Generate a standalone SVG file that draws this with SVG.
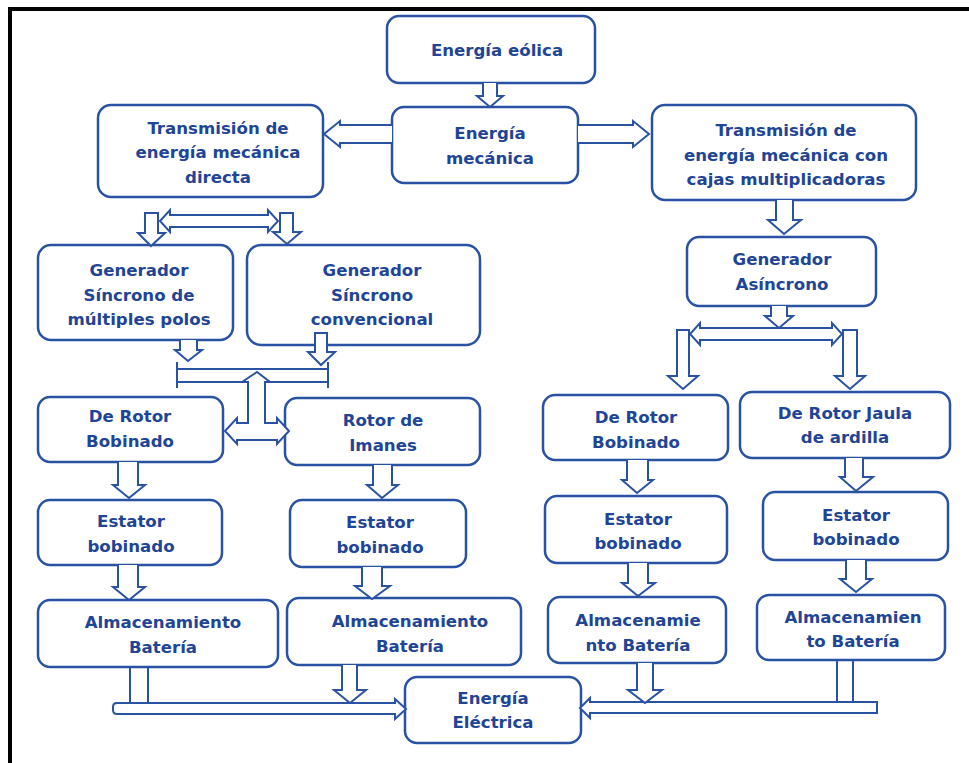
<svg xmlns="http://www.w3.org/2000/svg" width="969" height="763" viewBox="0 0 969 763">
<style>
.box{fill:#fff;stroke:#2a52a3;stroke-width:2.5}
.arr{fill:#fff;stroke:#2a52a3;stroke-width:2;stroke-linejoin:miter}
.ln{fill:none;stroke:#2a52a3;stroke-width:2}
text{font-family:"DejaVu Sans","Liberation Sans",sans-serif;font-weight:bold;font-size:16.6px;fill:#1f4596;text-anchor:middle}
</style>
<rect x="0" y="0" width="969" height="763" fill="#fff"/>
<path d="M10,763 V9 H969" fill="none" stroke="#000" stroke-width="4"/>

<g id="n-eolica"><rect class="box" x="387" y="16" width="208" height="67" rx="12"/><text x="497" y="56">Energía eólica</text></g>
<g id="n-mecanica"><rect class="box" x="392" y="107" width="186" height="76" rx="12"/><text x="490" y="139">Energía</text><text x="490" y="164">mecánica</text></g>
<g id="n-trans-directa"><rect class="box" x="98" y="105" width="225" height="92" rx="13"/><text x="218" y="134">Transmisión de</text><text x="218" y="158">energía mecánica</text><text x="218" y="183">directa</text></g>
<g id="n-trans-cajas"><rect class="box" x="652" y="105" width="264" height="95" rx="13"/><text x="786" y="136">Transmisión de</text><text x="786" y="161">energía mecánica con</text><text x="786" y="185">cajas multiplicadoras</text></g>
<g id="n-gen-multi"><rect class="box" x="38" y="245" width="195" height="95" rx="13"/><text x="139" y="276">Generador</text><text x="139" y="301">Síncrono de</text><text x="139" y="325">múltiples polos</text></g>
<g id="n-gen-conv"><rect class="box" x="247" y="245" width="233" height="100" rx="14"/><text x="372" y="276">Generador</text><text x="372" y="301">Síncrono</text><text x="372" y="325">convencional</text></g>
<g id="n-gen-asin"><rect class="box" x="687" y="237" width="189" height="69" rx="12"/><text x="782" y="265">Generador</text><text x="782" y="290">Asíncrono</text></g>
<g id="n-rotor-bob-1"><rect class="box" x="38" y="397" width="185" height="65" rx="12"/><text x="130" y="422">De Rotor</text><text x="130" y="447">Bobinado</text></g>
<g id="n-rotor-imanes"><rect class="box" x="285" y="398" width="195" height="67" rx="12"/><text x="383" y="426">Rotor de</text><text x="383" y="451">Imanes</text></g>
<g id="n-rotor-bob-2"><rect class="box" x="543" y="395" width="185" height="65" rx="12"/><text x="636" y="423">De Rotor</text><text x="636" y="448">Bobinado</text></g>
<g id="n-rotor-jaula"><rect class="box" x="740" y="392" width="210" height="66" rx="12"/><text x="845" y="419">De Rotor Jaula</text><text x="845" y="443">de ardilla</text></g>
<g id="n-estator-1"><rect class="box" x="38" y="500" width="184" height="65" rx="12"/><text x="131" y="527">Estator</text><text x="131" y="552">bobinado</text></g>
<g id="n-estator-2"><rect class="box" x="290" y="500" width="176" height="67" rx="12"/><text x="380" y="528">Estator</text><text x="380" y="553">bobinado</text></g>
<g id="n-estator-3"><rect class="box" x="545" y="496" width="182" height="67" rx="12"/><text x="638" y="525">Estator</text><text x="638" y="549">bobinado</text></g>
<g id="n-estator-4"><rect class="box" x="763" y="492" width="185" height="68" rx="12"/><text x="856" y="521">Estator</text><text x="856" y="545">bobinado</text></g>
<g id="n-alm-1"><rect class="box" x="38" y="600" width="240" height="67" rx="12"/><text x="163" y="628">Almacenamiento</text><text x="163" y="653">Batería</text></g>
<g id="n-alm-2"><rect class="box" x="287" y="598" width="234" height="67" rx="12"/><text x="410" y="627">Almacenamiento</text><text x="410" y="652">Batería</text></g>
<g id="n-alm-3"><rect class="box" x="548" y="597" width="178" height="66" rx="12"/><text x="638" y="626">Almacenamie</text><text x="638" y="651">nto Batería</text></g>
<g id="n-alm-4"><rect class="box" x="757" y="595" width="188" height="65" rx="12"/><text x="853" y="623">Almacenamien</text><text x="853" y="647">to Batería</text></g>
<g id="n-electrica"><rect class="box" x="405" y="677" width="176" height="66" rx="12"/><text x="493" y="704">Energía</text><text x="493" y="728">Eléctrica</text></g>

<g id="connectors">
<path class="arr" d="M483,83 V96 H477 L490,107 L503,96 H497 V83"/>
<path class="arr" d="M392,125 H340 V121 L324,134 L340,147 V143 H392"/>
<path class="arr" d="M578,125 H633 V121 L649,134 L633,147 V143 H578"/>
<path class="arr" d="M145,213 V233 H138 L151,246 L165,233 H158 V213 Z"/>
<path class="arr" d="M280,213 V232 H273 L287,244 L301,232 H293 V213 Z"/>
<path class="arr" d="M170,215 V210 L160,221 L170,232 V227 H268 V232 L278,221 L268,210 V215 Z"/>
<path class="arr" d="M180,340 V350 H175 L188,361 L202,350 H197 V340"/>
<path class="arr" d="M315,333 V352 H308 L321,365 L335,352 H327 V333 Z"/>
<path class="ln" d="M177,362 V388 M328,362 V388 M177,369 H328 M177,382 H328"/>
<path class="arr" d="M242,382 L257,372 L270,382 H265 V423 H277 V418 L289,431 L277,444 V440 H237 V444 L225,431 L237,418 V423 H248 V382 Z"/>
<path class="arr" d="M118,462 V485 H113 L129,498 L145,485 H138 V462"/>
<path class="arr" d="M373,465 V485 H367 L382,498 L398,485 H392 V465"/>
<path class="arr" d="M118,565 V587 H113 L129,600 L145,587 H138 V565"/>
<path class="arr" d="M362,567 V586 H355 L372,599 L390,586 H382 V567"/>
<path class="arr" d="M776,200 V220 H768 L784,234 L801,220 H793 V200"/>
<path class="arr" d="M771,306 V316 H765 L779,328 L793,316 H787 V306"/>
<path class="arr" d="M677,330 V376 H668 L683,389 L698,376 H689 V330 Z"/>
<path class="arr" d="M843,330 V376 H835 L850,389 L865,376 H857 V330 Z"/>
<path class="arr" d="M700,328 V323 L690,334 L700,345 V340 H832 V345 L842,334 L832,323 V328 Z"/>
<path class="arr" d="M627,460 V480 H622 L637,493 L653,480 H648 V460"/>
<path class="arr" d="M845,458 V477 H840 L856,491 L873,477 H863 V458"/>
<path class="arr" d="M628,563 V583 H622 L638,596 L655,583 H648 V563"/>
<path class="arr" d="M846,560 V579 H840 L856,592 L872,579 H866 V560"/>
<path class="ln" d="M130,667 V703 M148,667 V703"/>
<path class="arr" d="M395,703 H117 Q113,703 113,707 V710 Q113,714 117,714 H395 V719 L406,709 L395,699 Z"/>
<path class="arr" d="M342,665 V690 H334 L350,703 L366,690 H357 V665"/>
<path class="ln" d="M837,660 V702 M853,660 V702"/>
<path class="arr" d="M590,702 H877 V713 H590 V718 L580,708 L590,698 Z"/>
<path class="arr" d="M637,663 V690 H628 L645,703 L662,690 H653 V663"/>
</g>
</svg>
